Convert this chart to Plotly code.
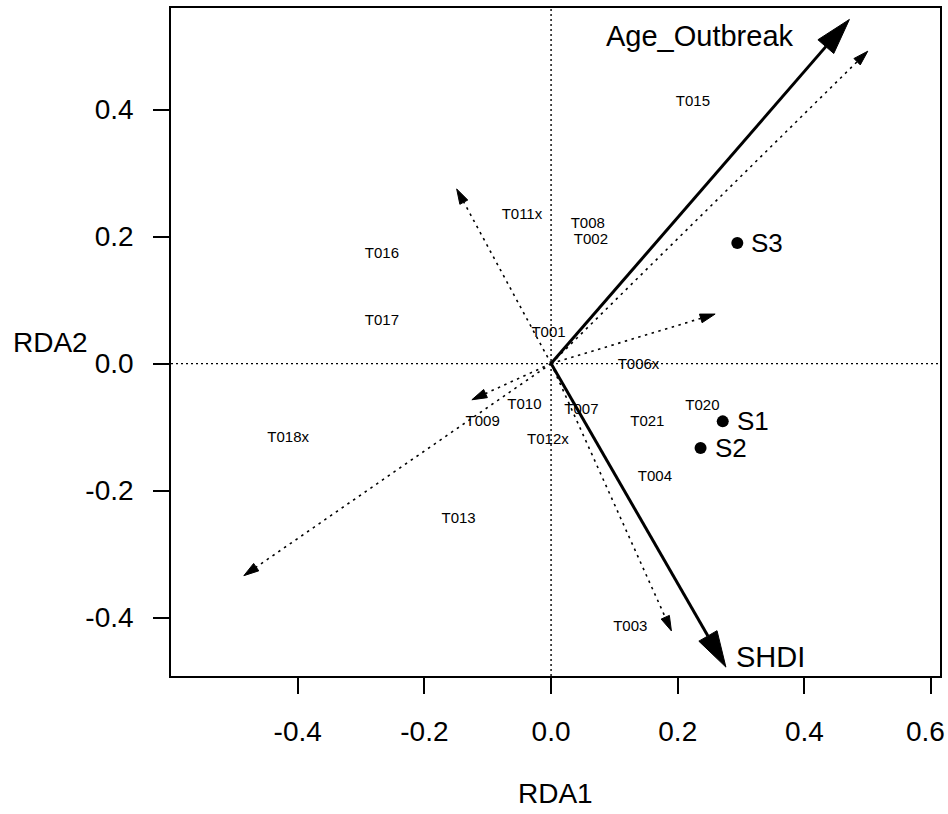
import plotly.graph_objects as go

# ---- data -------------------------------------------------------------
# constraining variables (biplot arrows, solid)
env_names = ["Age_Outbreak", "SHDI"]
env_x = [0.471, 0.276]
env_y = [0.542, -0.478]

# response vectors (dotted arrows)
vec_x = [0.500, -0.149, 0.259, -0.125, -0.485, 0.190]
vec_y = [0.492, 0.275, 0.078, -0.057, -0.334, -0.421]

# species labels
sp_names = ["T015", "T011x", "T008", "T002", "T001", "T006x", "T016", "T017",
            "T010", "T009", "T018x", "T012x", "T013", "T007", "T020", "T021",
            "T004", "T003"]
sp_x = [0.224, -0.046, 0.058, 0.063, -0.004, 0.138, -0.267, -0.267,
        -0.042, -0.108, -0.415, -0.005, -0.146, 0.048, 0.239, 0.152,
        0.164, 0.125]
sp_y = [0.411, 0.234, 0.220, 0.194, 0.048, -0.002, 0.172, 0.067,
        -0.065, -0.093, -0.117, -0.121, -0.245, -0.073, -0.067, -0.093,
        -0.179, -0.416]

# sites
site_names = ["S1", "S2", "S3"]
site_x = [0.271, 0.236, 0.294]
site_y = [-0.091, -0.133, 0.190]

x_ticks = [-0.4, -0.2, 0.0, 0.2, 0.4, 0.6]
y_ticks = [-0.4, -0.2, 0.0, 0.2, 0.4]

# ---- layout constants -------------------------------------------------
W, H = 948, 814
ML, MR, MT, MB = 171, 8, 8, 138
XR = [-0.600, 0.614]
YR = [-0.492, 0.560]
FONT = "Liberation Sans, Arial, Helvetica, sans-serif"
TICK_SIZE = 28

# pixels per data unit, used to shape arrowheads in screen space
KX = (W - ML - MR) / (XR[1] - XR[0])
KY = (H - MT - MB) / (YR[1] - YR[0])


def head(tx, ty, length, half):
    """Triangle arrowhead at (tx, ty) pointing away from the origin."""
    px, py = tx * KX, ty * KY
    n = (px ** 2 + py ** 2) ** 0.5
    ux, uy = px / n, py / n
    bx, by = px - length * ux, py - length * uy
    pts = [(px, py), (bx - half * uy, by + half * ux), (bx + half * uy, by - half * ux), (px, py)]
    return [p[0] / KX for p in pts], [p[1] / KY for p in pts], (bx / KX, by / KY)


fig = go.Figure()

# dotted response vectors
for vx, vy in zip(vec_x, vec_y):
    hx, hy, (bx, by) = head(vx, vy, 15, 4.5)
    fig.add_trace(go.Scatter(x=[0, bx], y=[0, by], mode="lines",
                             line=dict(color="black", width=1.6, dash="2.5px,4.5px"),
                             hoverinfo="skip", showlegend=False))
    fig.add_trace(go.Scatter(x=hx, y=hy, mode="lines", fill="toself",
                             fillcolor="black", line=dict(color="black", width=1),
                             hoverinfo="skip", showlegend=False))

# solid biplot arrows
for ex, ey in zip(env_x, env_y):
    hx, hy, (bx, by) = head(ex, ey, 36, 10.5)
    fig.add_trace(go.Scatter(x=[0, bx], y=[0, by], mode="lines",
                             line=dict(color="black", width=3),
                             hoverinfo="skip", showlegend=False))
    fig.add_trace(go.Scatter(x=hx, y=hy, mode="lines", fill="toself",
                             fillcolor="black", line=dict(color="black", width=1),
                             hoverinfo="skip", showlegend=False))

# species names
fig.add_trace(go.Scatter(x=sp_x, y=sp_y, mode="text", text=sp_names,
                         textfont=dict(family=FONT, size=15, color="black"),
                         hoverinfo="skip", showlegend=False))

# site points
fig.add_trace(go.Scatter(x=site_x, y=site_y, mode="markers",
                         marker=dict(color="black", size=12),
                         hoverinfo="skip", showlegend=False))

annotations = []
for name, sx, sy in zip(site_names, site_x, site_y):
    annotations.append(dict(x=sx, y=sy, xref="x", yref="y", text=name, showarrow=False,
                            xanchor="left", yanchor="middle", xshift=12,
                            font=dict(family=FONT, size=26, color="black")))

# biplot arrow labels
annotations.append(dict(x=env_x[0], y=env_y[0], xref="x", yref="y", text=env_names[0],
                        showarrow=False, xanchor="right", yanchor="middle",
                        xshift=-53, yshift=-17,
                        font=dict(family=FONT, size=29, color="black")))
annotations.append(dict(x=env_x[1], y=env_y[1], xref="x", yref="y", text=env_names[1],
                        showarrow=False, xanchor="left", yanchor="middle",
                        xshift=8, yshift=10,
                        font=dict(family=FONT, size=29, color="black")))

# axis titles
annotations.append(dict(x=0.5, y=0, xref="paper", yref="paper", text="RDA1",
                        showarrow=False, xanchor="center", yanchor="middle",
                        yshift=-117, font=dict(family=FONT, size=28, color="black")))
annotations.append(dict(x=0, y=0.5, xref="paper", yref="paper", text="RDA2",
                        showarrow=False, xanchor="center", yanchor="middle",
                        xshift=-121, font=dict(family=FONT, size=28, color="black")))

# the last x tick label sits at the page edge; keep it inside the page
x_ticktext = [f"{v:.1f}" for v in x_ticks]
last_label = x_ticktext[-1]
x_ticktext[-1] = ""
annotations.append(dict(x=x_ticks[-1], y=0, xref="x", yref="paper", text=last_label,
                        showarrow=False, xanchor="right", yanchor="middle",
                        xshift=16, yshift=-55,
                        font=dict(family=FONT, size=TICK_SIZE, color="black")))

# dotted cross-hair through the origin
shapes = [
    dict(type="line", xref="x", yref="paper", x0=0, x1=0, y0=0, y1=1,
         line=dict(color="black", width=1.4, dash="2px,3px"), layer="below"),
    dict(type="line", xref="paper", yref="y", x0=0, x1=1, y0=0, y1=0,
         line=dict(color="black", width=1.4, dash="2px,3px"), layer="below"),
]

axis_common = dict(showline=True, mirror=True, linecolor="black", linewidth=1.6,
                   ticks="outside", ticklen=16, tickwidth=1.5, tickcolor="black",
                   showgrid=False, zeroline=False, automargin=False,
                   tickfont=dict(family=FONT, size=TICK_SIZE, color="black"))

fig.update_layout(
    width=W, height=H,
    margin=dict(l=ML, r=MR, t=MT, b=MB, autoexpand=False),
    paper_bgcolor="white", plot_bgcolor="white",
    xaxis=dict(range=XR, tickvals=x_ticks, ticktext=x_ticktext,
               ticklabelstandoff=14, **axis_common),
    yaxis=dict(range=YR, tickvals=y_ticks, ticktext=[f"{v:.1f}" for v in y_ticks],
               ticklabelstandoff=14, **axis_common),
    annotations=annotations,
    shapes=shapes,
)

fig.write_html("out.html")
